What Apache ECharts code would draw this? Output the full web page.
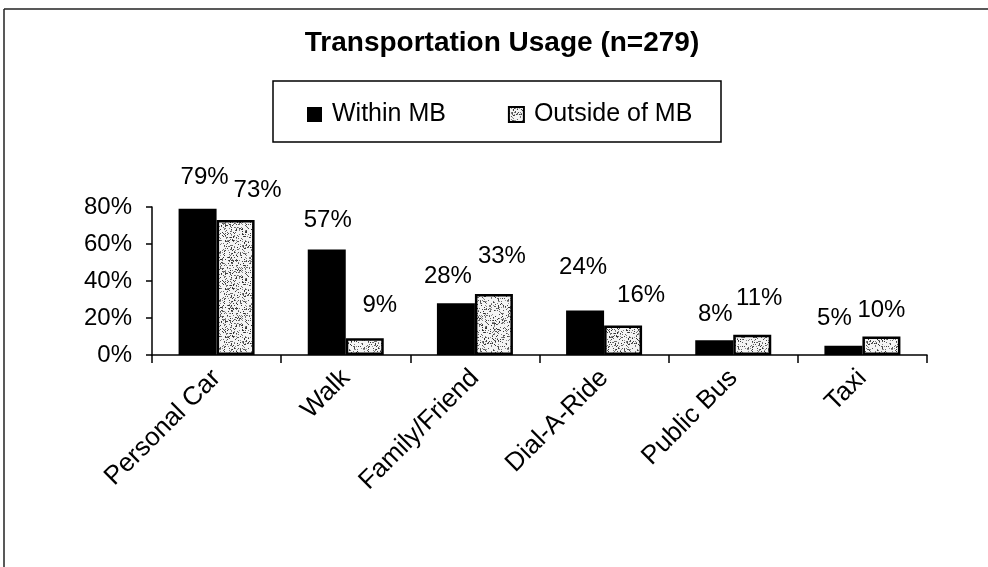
<!DOCTYPE html>
<html>
<head>
<meta charset="utf-8">
<script src="https://cdn.jsdelivr.net/npm/echarts@6/dist/echarts.min.js"></script>
<style>
  html, body { margin: 0; padding: 0; background: #fff; }
  #chart { width: 988px; height: 567px; }
</style>
</head>
<body>
<div id="chart"></div>
<script>
// Transportation usage survey results (n=279), percent of respondents
const categories = ['Personal Car', 'Walk', 'Family/Friend', 'Dial-A-Ride', 'Public Bus', 'Taxi'];
const withinMB = [79, 57, 28, 24, 8, 5];
const outsideMB = [73, 9, 33, 16, 11, 10];
const yTicks = [0, 20, 40, 60, 80];

// Nudges for the value labels so neighbouring labels do not collide
const withinLabelShift = [[7, -4], [1, -2], [-8, 0], [-2, -16], [1, 1], [-9, 0]];
const outsideLabelShift = [[22, -3], [15, -6], [8, -11], [18, -3], [7, -9], [0, 1]];

const FONT = "'Liberation Sans', Arial, Helvetica, sans-serif";

// Speckled grey fill for the "Outside of MB" bars
function makeStipple() {
  const c = document.createElement('canvas');
  c.width = 48; c.height = 48;
  const ctx = c.getContext('2d');
  ctx.fillStyle = '#f4f4f4';
  ctx.fillRect(0, 0, 48, 48);
  let s = 12345;
  const next = () => { s = (s * 1103515245 + 12345) % 2147483648; return s / 2147483648; };
  for (let i = 0; i < 620; i++) {
    const x = Math.floor(next() * 48), y = Math.floor(next() * 48);
    const g = Math.floor(40 + next() * 110);
    ctx.fillStyle = 'rgb(' + g + ',' + g + ',' + g + ')';
    ctx.fillRect(x, y, 1, 1);
  }
  return c;
}
const stipple = makeStipple();

const chart = echarts.init(document.getElementById('chart'), null, { renderer: 'canvas' });

const valueLabel = (shifts) => (v, i) => ({
  value: v,
  label: { offset: shifts[i] }
});

chart.setOption({
  backgroundColor: '#fff',
  animation: false,
  title: {
    text: 'Transportation Usage (n=279)',
    left: 497,
    top: 24,
    textAlign: 'center',
    textStyle: { fontFamily: FONT, fontSize: 28, fontWeight: 'bold', color: '#000' }
  },
  legend: {
    left: 307,
    top: 102,
    padding: 0,
    itemWidth: 15,
    itemHeight: 15,
    itemGap: 62,
    icon: 'rect',
    textStyle: { fontFamily: FONT, fontSize: 25, color: '#000', padding: [0, 0, 0, 5] },
    data: ['Within MB', 'Outside of MB']
  },
  graphic: [
    { type: 'line', shape: { x1: 4, y1: 9, x2: 988, y2: 9 }, style: { stroke: '#222', lineWidth: 1.5 } },
    { type: 'line', shape: { x1: 4, y1: 9, x2: 4, y2: 567 }, style: { stroke: '#222', lineWidth: 1.5 } },
    { type: 'rect', shape: { x: 273, y: 81, width: 448, height: 61 }, style: { fill: 'none', stroke: '#000', lineWidth: 1.5 } }
  ],
  grid: { left: 152, right: 61, top: 207, bottom: 212, containLabel: false },
  xAxis: {
    type: 'category',
    data: categories,
    axisLine: { show: true, lineStyle: { color: '#000', width: 1.5 } },
    axisTick: { show: true, length: 8, lineStyle: { color: '#000', width: 1.5 } },
    axisLabel: { rotate: 45, interval: 0, margin: 19, fontFamily: FONT, fontSize: 26, color: '#000' },
    splitLine: { show: false }
  },
  yAxis: {
    type: 'value',
    min: yTicks[0],
    max: yTicks[yTicks.length - 1],
    interval: yTicks[1] - yTicks[0],
    axisLine: { show: true, lineStyle: { color: '#000', width: 1.5 } },
    axisTick: { show: true, length: 6, lineStyle: { color: '#000', width: 1.5 } },
    axisLabel: { margin: 20, fontFamily: FONT, fontSize: 24, color: '#000', formatter: '{value}%' },
    splitLine: { show: false }
  },
  series: [
    {
      name: 'Within MB',
      type: 'bar',
      barWidth: 38,
      barGap: '0%',
      itemStyle: { color: '#000' },
      label: {
        show: true, position: 'top', distance: 15,
        fontFamily: FONT, fontSize: 24, color: '#000', formatter: '{c}%'
      },
      data: withinMB.map(valueLabel(withinLabelShift))
    },
    {
      name: 'Outside of MB',
      type: 'bar',
      barWidth: 38,
      barGap: '0%',
      itemStyle: { color: { image: stipple, repeat: 'repeat' }, borderColor: '#000', borderWidth: 2.5 },
      label: {
        show: true, position: 'top', distance: 15,
        fontFamily: FONT, fontSize: 24, color: '#000', formatter: '{c}%'
      },
      data: outsideMB.map(valueLabel(outsideLabelShift))
    }
  ]
});
</script>
</body>
</html>
